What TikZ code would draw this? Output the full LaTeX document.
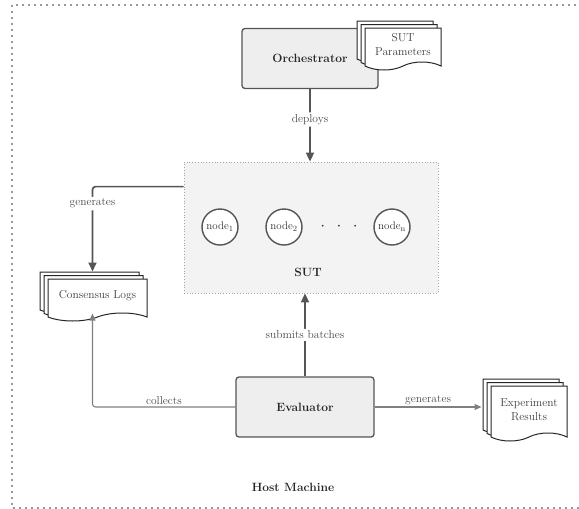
\documentclass[tikz,border=0pt]{standalone}
\usetikzlibrary{shapes.symbols,shadows,arrows.meta,calc}
\definecolor{boxfill}{HTML}{EEEEEE}
\definecolor{sutfill}{HTML}{F3F3F3}
\definecolor{edge}{HTML}{555555}
\definecolor{thinedge}{HTML}{808080}
\definecolor{labelgray}{HTML}{4A4A4A}
\tikzset{
  comp/.style={draw=edge, fill=boxfill, line width=1.3pt, rounded corners=3pt,
    minimum width=136pt, minimum height=60pt, text=black!85, font=\fontsize{12}{14}\selectfont\bfseries},
  doc/.style={tape, tape bend top=none, tape bend bottom=in and out, tape bend height=8pt,
    draw=black!85, fill=white, line width=1pt, align=center, inner sep=1pt,
    copy shadow={shadow xshift=-8pt, shadow yshift=7pt, draw=black!85, line width=1pt},
    copy shadow={shadow xshift=-4pt, shadow yshift=3.5pt, draw=black!85, line width=1pt},
    text=black!75, font=\fontsize{11.5}{14}\selectfont},
  peer/.style={circle, draw=edge, fill=white, line width=1.4pt, minimum size=36pt,
    inner sep=0pt, text=black!80, font=\fontsize{11}{12}\selectfont},
  flow/.style={draw=edge, line width=1.7pt, rounded corners=3pt, -{Triangle[length=9pt,width=8pt]}},
  thinflow/.style={draw=thinedge, line width=1.1pt, rounded corners=3pt, -{Triangle[length=7pt,width=6pt]}},
  lbl/.style={text=labelgray, font=\fontsize{11.5}{13}\selectfont, inner sep=2pt},
}
\begin{document}
\begin{tikzpicture}[x=1pt,y=-1pt]
\useasboundingbox (0,0) rectangle (579,509);
\begin{scope}
\clip (0,0) rectangle (579,509);
\draw[gray!80, line width=1.4pt, dash pattern=on 1.6pt off 4.4pt] (12,5) rectangle (595,508);
\end{scope}
\node[draw=gray!70, fill=sutfill, dotted, line width=0.8pt, minimum width=254pt, minimum height=131pt] (sut) at (311,227.5) {};
\node[peer] (peer1) at (220,227) {node$_1$};
\node[peer] (peer2) at (284,227) {node$_2$};
\node[text=black!80, font=\fontsize{16}{16}\selectfont] (dots) at (339,227) {$\cdot\ \,\cdot\ \,\cdot$};
\node[peer] (peern) at (392,227) {node$_\mathrm{n}$};
\node[text=black!85, font=\fontsize{12}{14}\selectfont\bfseries] (sutname) at (308,272) {SUT};
\node[comp] (orch) at (310,58.5) {Orchestrator};
\node[doc, minimum width=76pt, minimum height=42pt] (params) at (403,45) {SUT\\Parameters};
\node[comp, minimum width=138pt] (eval) at (305,407) {Evaluator};
\node[doc, minimum width=99pt, minimum height=42pt] (logs) at (97.5,296) {Consensus Logs};
\node[doc, minimum width=76pt, minimum height=55pt] (results) at (529,409.5) {Experiment\\Results};
\node[text=black!85, font=\fontsize{12}{14}\selectfont\bfseries] (host) at (293,487) {Host Machine};
\draw[flow] (orch) -- node[lbl, fill=white, pos=0.42] {deploys} (orch |- sut.north);
\draw[flow] ($(sut.north west)+(0,25)$) -| node[lbl, fill=white, pos=0.6] {generates} ([xshift=-5pt,yshift=7pt]logs.north);
\draw[flow] (eval) -- node[lbl, fill=white] {submits batches} (eval |- sut.south);
\draw[thinflow] (eval.west) -| node[lbl, above, pos=0.25] {collects} ([xshift=-5pt]logs.south);
\draw[thinflow] (eval.east) -- node[lbl, above] {generates} ([xshift=-9pt]eval.east -| results.west);
\end{tikzpicture}
\end{document}
